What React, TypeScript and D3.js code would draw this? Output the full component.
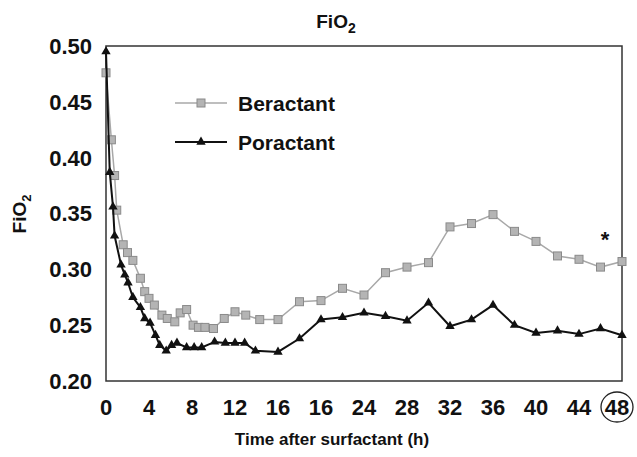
import React from 'react';
import * as d3 from 'd3';

// hours after surfactant
const beractantTimes = [0, 0.5, 0.8, 1, 1.6, 2, 2.5, 3.2, 3.6, 4, 4.5, 5.2, 5.7, 6.4, 6.9, 7.5, 8.1, 8.6, 9.2, 10, 11, 12, 13, 14.3, 16, 18, 20, 22, 24, 26, 28, 30, 32, 34, 36, 38, 40, 42, 44, 46, 48];
const beractantValues = [0.476, 0.416, 0.384, 0.353, 0.322, 0.315, 0.308, 0.292, 0.28, 0.274, 0.268, 0.259, 0.256, 0.253, 0.261, 0.264, 0.25, 0.248, 0.248, 0.247, 0.256, 0.262, 0.259, 0.255, 0.255, 0.271, 0.272, 0.283, 0.277, 0.297, 0.302, 0.306, 0.338, 0.341, 0.349, 0.334, 0.325, 0.312, 0.309, 0.302, 0.307];

const poractantTimes = [0, 0.35, 0.65, 0.8, 1.4, 1.75, 2.05, 2.5, 3.2, 3.6, 4.1, 4.6, 5, 5.6, 6.1, 6.6, 7.5, 8.2, 8.9, 10.1, 11.1, 12, 12.9, 13.9, 16, 18, 20, 22, 24, 26, 28, 30, 32, 34, 36, 38, 40, 42, 44, 46, 48];
const poractantValues = [0.495, 0.387, 0.356, 0.33, 0.304, 0.295, 0.288, 0.275, 0.266, 0.256, 0.252, 0.241, 0.232, 0.227, 0.232, 0.234, 0.23, 0.23, 0.23, 0.235, 0.234, 0.234, 0.234, 0.227, 0.226, 0.238, 0.255, 0.257, 0.261, 0.258, 0.254, 0.27, 0.249, 0.255, 0.268, 0.25, 0.243, 0.245, 0.242, 0.247, 0.241];

const xTickValues = [0, 4, 8, 12, 16, 20, 24, 28, 32, 36, 40, 44, 48];
const xTickLabels = ['0', '4', '8', '12', '16', '16', '24', '28', '32', '36', '40', '44', '48'];
const yTickValues = [0.2, 0.25, 0.3, 0.35, 0.4, 0.45, 0.5];

const FONT = '"Liberation Sans", Arial, Helvetica, sans-serif';

const App = () => {
  const width = 637;
  const height = 457;
  const margin = { top: 46, right: 15, bottom: 76, left: 106 };

  const x = d3.scaleLinear().domain([0, 48]).range([margin.left, width - margin.right]);
  const y = d3.scaleLinear().domain([0.2, 0.5]).range([height - margin.bottom, margin.top]);

  const ber = beractantTimes.map((t, i) => [t, beractantValues[i]] as [number, number]);
  const por = poractantTimes.map((t, i) => [t, poractantValues[i]] as [number, number]);

  const line = d3
    .line<[number, number]>()
    .x((d) => x(d[0]))
    .y((d) => y(d[1]));

  const tri = d3.symbol().type(d3.symbolTriangle).size(38)();
  const last = xTickValues.length - 1;

  return (
    <svg width={width} height={height} style={{ position: 'absolute', left: 0, top: 0, background: '#fff' }} fontFamily={FONT}>
      {/* title */}
      <text x={336} y={28} fontSize={19} fontWeight="bold" textAnchor="middle" fill="#111">
        FiO<tspan dy={5} fontSize={14}>2</tspan>
      </text>

      {/* y-axis label */}
      <text transform="translate(26,214) rotate(-90)" fontSize={19} fontWeight="bold" textAnchor="middle" fill="#111">
        FiO<tspan dy={5} fontSize={13}>2</tspan>
      </text>

      {/* y tick labels */}
      {yTickValues.map((v) => (
        <text key={v} x={92} y={y(v)} dy="0.36em" fontSize={22} fontWeight="bold" textAnchor="end" fill="#111">
          {v.toFixed(2)}
        </text>
      ))}

      {/* x tick labels */}
      {xTickValues.map((v, i) => (
        <text key={i} x={i === last ? x(v) - 5 : x(v)} y={415} fontSize={22} fontWeight="bold" textAnchor="middle" fill="#111">
          {xTickLabels[i]}
        </text>
      ))}
      <ellipse cx={x(48) - 5} cy={407} rx={16} ry={15} fill="none" stroke="#222" strokeWidth={1.3} />

      {/* x-axis label */}
      <text x={332} y={445} fontSize={17} fontWeight="bold" textAnchor="middle" fill="#111">
        Time after surfactant (h)
      </text>

      {/* frame */}
      <rect
        x={x(0)}
        y={y(0.5)}
        width={x(48) - x(0)}
        height={y(0.2) - y(0.5)}
        fill="none"
        stroke="#333"
        strokeWidth={1.5}
      />

      {/* Beractant */}
      <path d={line(ber) || ''} fill="none" stroke="#a8a8a8" strokeWidth={1.5} />
      {ber.map((d, i) => (
        <rect key={i} x={x(d[0]) - 4} y={y(d[1]) - 4} width={8} height={8} fill="#b4b4b4" stroke="#8a8a8a" strokeWidth={1} />
      ))}

      {/* Poractant */}
      <path d={line(por) || ''} fill="none" stroke="#111" strokeWidth={2} />
      {por.map((d, i) => (
        <path key={i} d={tri || ''} transform={`translate(${x(d[0])},${y(d[1])})`} fill="#111" />
      ))}

      {/* significance marker */}
      <text x={605} y={247} fontSize={22} fontWeight="bold" textAnchor="middle" fill="#111">
        *
      </text>

      {/* legend */}
      <g>
        <line x1={175} x2={227} y1={103} y2={103} stroke="#a8a8a8" strokeWidth={1.5} />
        <rect x={197} y={99} width={8} height={8} fill="#b4b4b4" stroke="#8a8a8a" />
        <text x={238} y={103} dy="0.36em" fontSize={21} fontWeight="bold" fill="#111">
          Beractant
        </text>
        <line x1={175} x2={227} y1={142} y2={142} stroke="#111" strokeWidth={2} />
        <path d={tri || ''} transform="translate(201,142)" fill="#111" />
        <text x={238} y={142} dy="0.36em" fontSize={21} fontWeight="bold" fill="#111">
          Poractant
        </text>
      </g>
    </svg>
  );
};

export default App;
